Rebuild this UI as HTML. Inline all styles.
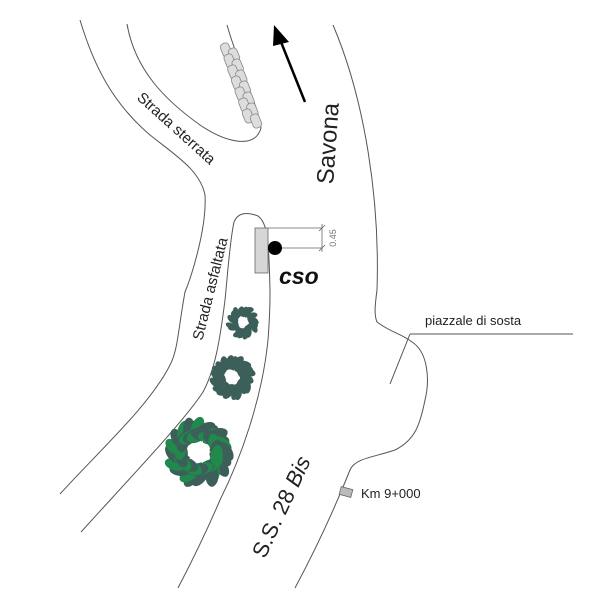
<!DOCTYPE html>
<html><head><meta charset="utf-8"><style>
html,body{margin:0;padding:0;background:#fff;}
svg{display:block;}
text{font-family:"Liberation Sans",sans-serif;}
</style></head><body>
<svg id="s" width="600" height="600" viewBox="0 0 600 600" xmlns="http://www.w3.org/2000/svg">
<g fill="none" stroke="#555" stroke-width="1">
<path d="M80,20 C95,70 115,105 150,135 C175,155 200,170 205,195 C207,230 190,280 185,292 C178,330 178,350 170,365 C150,405 100,450 60,494"/>
<path d="M127,24 C135,70 165,100 200,125 C225,142 255,150 261,128 C258,105 240,70 227,25"/>
<path d="M81,532 C130,478 185,420 203,392 C215,370 220,340 225,300 C228,270 230,240 234,222 C238,212 248,212 258,216 C266,222 268,235 269,260 C270,285 271,300 268,340 C262,400 240,460 220,500 C205,535 190,565 178,588"/>
<path d="M333,25 C365,100 380,200 377,290 C375,305 374,315 377,322 C390,332 402,334 412,342 C428,352 430,380 425,400 C420,425 415,440 395,450 C375,457 355,458 350,470 C330,520 310,560 295,588"/>
<path d="M410,334 L573,334 M410,334 L390,384"/>
</g>
<text x="425" y="325" font-size="13" fill="#222">piazzale di sosta</text>
<rect x="340" y="488" width="12" height="8" fill="#bbb" stroke="#666" stroke-width="0.8" transform="rotate(15 346 492)"/>
<text x="361" y="498" font-size="13" fill="#222">Km 9+000</text>
<text x="0" y="0" font-size="22" fill="#222" text-anchor="middle" transform="translate(288,510) rotate(-65)">S.S. 28 <tspan font-style="italic">Bis</tspan></text>
<text x="0" y="0" font-size="24" fill="#222" text-anchor="middle" transform="translate(336,144) rotate(-86)">Savona</text>
<line x1="305" y1="102" x2="281" y2="42" stroke="#000" stroke-width="2.5"/>
<polygon points="274,25 289,42 273,46" fill="#000"/>
<text x="0" y="0" font-size="15" fill="#222" text-anchor="middle" transform="translate(173,132) rotate(42)">Strada sterrata</text>
<text x="0" y="0" font-size="15" fill="#222" text-anchor="middle" transform="translate(215,290) rotate(-76)">Strada asfaltata</text>
<g id="stones" fill="#ddd" stroke="#888" stroke-width="0.8"></g>
<rect x="255" y="228" width="13" height="45" fill="#d6d6d6" stroke="#666" stroke-width="0.8"/>
<g stroke="#666" stroke-width="0.8" fill="none">
<path d="M268,228 L322,228 M275,248 L322,248 M322,224 L322,252 M319,231 L325,225 M319,251 L325,245"/>
</g>
<circle cx="275" cy="248" r="7" fill="#000"/>
<text x="0" y="0" font-size="9" fill="#777" text-anchor="middle" transform="translate(336,238) rotate(-90)">0.45</text>
<text x="279" y="284" font-size="23" font-weight="bold" font-style="italic" fill="#111">cso</text>
<g id="trees"></g>
</svg>
<script>
var NS="http://www.w3.org/2000/svg";
var st=document.getElementById('stones');
for(var i=0;i<7;i++){for(var j=0;j<2;j++){var e=document.createElementNS(NS,'rect');
var t=i/6;var cx=226+t*22+j*8, cy=50+i*11+j*5;
e.setAttribute('x',cx-4.5);e.setAttribute('y',cy-7);e.setAttribute('width',9);e.setAttribute('height',14);e.setAttribute('rx',3.5);
e.setAttribute('transform','rotate(-22 '+cx+' '+cy+')');st.appendChild(e);}}
var tr=document.getElementById('trees');
var seed=3;function rnd(){seed=(seed*9301+49297)%233280;return seed/233280;}
function tree(cx,cy,r,green){
 var n=Math.round(r*0.7)+4;
 for(var k=0;k<2;k++){
 for(var i=0;i<n;i++){var a=i/n*2*Math.PI+k*0.4+rnd()*0.3;var rr=r*(k?0.5:0.72)*(0.9+rnd()*0.2);
  var x=cx+rr*Math.cos(a),y=cy+rr*Math.sin(a);
  var e=document.createElementNS(NS,'ellipse');
  e.setAttribute('cx',x);e.setAttribute('cy',y);e.setAttribute('rx',r*0.3);e.setAttribute('ry',r*0.17);
  e.setAttribute('transform','rotate('+(a*180/Math.PI+(k?70:20)+rnd()*40)+' '+x+' '+y+')');
  e.setAttribute('fill',(green&&(i%3==k))?'#1f8a4c':'#3d5f59');tr.appendChild(e);}}
 var p=[];for(var i=0;i<10;i++){var a=i/10*2*Math.PI;var rr=r*(i%2?0.18:0.34);p.push((cx+rr*Math.cos(a)).toFixed(1)+','+(cy+rr*Math.sin(a)).toFixed(1));}
 var c=document.createElementNS(NS,'polygon');c.setAttribute('points',p.join(' '));c.setAttribute('fill','#fff');tr.appendChild(c);
}
tree(243,322,17,false);tree(232,377,23,false);tree(199,452,35,true);
</script>
</body></html>
